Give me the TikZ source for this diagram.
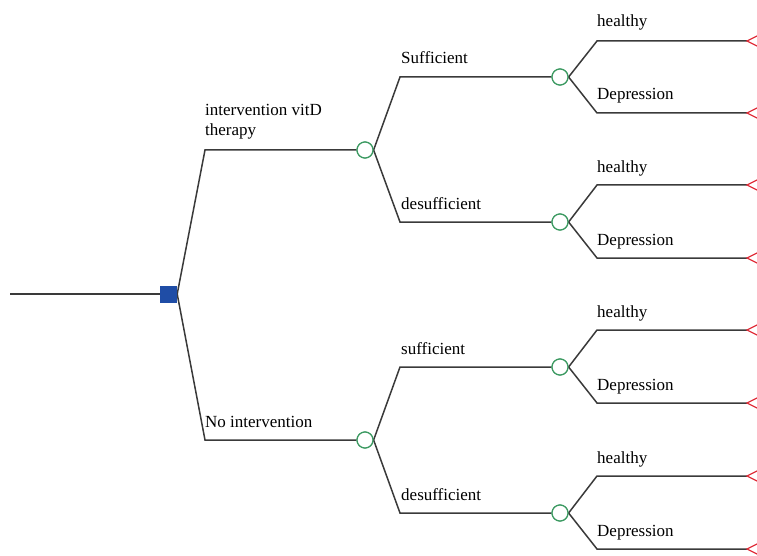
\documentclass[tikz,border=0pt]{standalone}
\usepackage{fontspec}
\setmainfont{Liberation Serif}
\usetikzlibrary{calc}
\definecolor{edgec}{HTML}{3A3A3A}
\definecolor{chancec}{HTML}{3C9A62}
\definecolor{decc}{HTML}{1F4DA6}
\definecolor{termc}{HTML}{E0303C}
\begin{document}
\begin{tikzpicture}[x=1pt,y=-1pt,
  edge/.style={draw=edgec,line width=1.5pt},
  chancenode/.style={circle,draw=chancec,line width=1.2pt,fill=white,minimum size=16pt,inner sep=0pt},
  decnode/.style={rectangle,fill=decc,minimum size=17pt,inner sep=0pt},
  termtri/.style={draw=termc,line width=1.2pt},
  lbl/.style={anchor=base west,inner sep=0pt,font=\fontsize{17}{20}\selectfont}]
\useasboundingbox (0,0) rectangle (757,556);
% nodes
\coordinate (start) at (10,294);
\node[decnode] (D) at (168.5,294) {};
\node[chancenode] (C1) at (365,150) {};
\node[chancenode] (C2) at (365,440) {};
\node[chancenode] (C11) at (560,77) {};
\node[chancenode] (C12) at (560,222) {};
\node[chancenode] (C21) at (560,367) {};
\node[chancenode] (C22) at (560,513) {};
\foreach \i/\y in {1/41,2/113,3/185,4/258,5/330,6/403,7/476,8/549}{
  \coordinate (T\i) at (747,\y);
}
% corners
\coordinate (k1) at (205,150);
\coordinate (k2) at (205,440);
\coordinate (k11) at (400,77);
\coordinate (k12) at (400,222);
\coordinate (k21) at (400,367);
\coordinate (k22) at (400,513);
\foreach \i/\y in {1/41,2/113,3/185,4/258,5/330,6/403,7/476,8/549}{
  \coordinate (m\i) at (597,\y);
}
% connectors
\draw[edge] (start) -- (D.west);
\draw[edge] (D.east) -- (k1) -- (C1.west);
\draw[edge] (D.east) -- (k2) -- (C2.west);
\draw[edge] (C1.east) -- (k11) -- (C11.west);
\draw[edge] (C1.east) -- (k12) -- (C12.west);
\draw[edge] (C2.east) -- (k21) -- (C21.west);
\draw[edge] (C2.east) -- (k22) -- (C22.west);
\draw[edge] (C11.east) -- (m1) -- (T1);
\draw[edge] (C11.east) -- (m2) -- (T2);
\draw[edge] (C12.east) -- (m3) -- (T3);
\draw[edge] (C12.east) -- (m4) -- (T4);
\draw[edge] (C21.east) -- (m5) -- (T5);
\draw[edge] (C21.east) -- (m6) -- (T6);
\draw[edge] (C22.east) -- (m7) -- (T7);
\draw[edge] (C22.east) -- (m8) -- (T8);
% redraw nodes on top
\node[decnode] at (D) {};
\foreach \n in {C1,C2,C11,C12,C21,C22}{\node[chancenode] at (\n) {};}
% terminal triangles
\foreach \i in {1,...,8}{
  \draw[termtri] ($(T\i)+(14,-7)$) -- (T\i) -- ($(T\i)+(14,7)$);
}
% labels
\node[lbl,align=left,anchor=south west] (L1) at (205,139.5) {intervention vitD\\therapy};
\node[lbl] (L2) at (205,427) {No intervention};
\node[lbl] (L11) at (401,64) {Sufficient};
\node[lbl] (L12) at (401,209) {desufficient};
\node[lbl] (L21) at (401,354) {sufficient};
\node[lbl] (L22) at (401,500) {desufficient};
\node[lbl] (h1) at (597,27) {healthy};
\node[lbl] (d1) at (597,100) {Depression};
\node[lbl] (h2) at (597,172) {healthy};
\node[lbl] (d2) at (597,245) {Depression};
\node[lbl] (h3) at (597,317) {healthy};
\node[lbl] (d3) at (597,390) {Depression};
\node[lbl] (h4) at (597,463) {healthy};
\node[lbl] (d4) at (597,536) {Depression};
\end{tikzpicture}
\end{document}
